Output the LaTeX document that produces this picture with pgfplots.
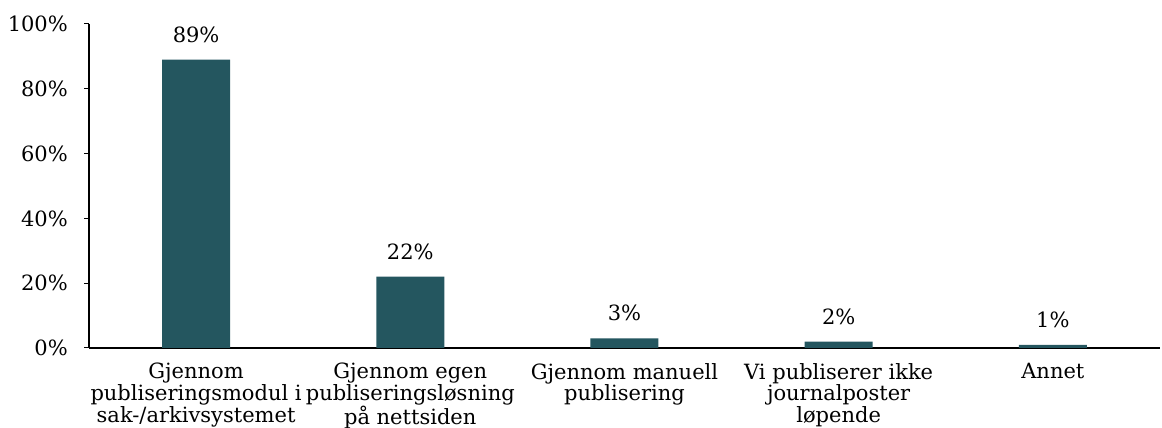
\documentclass[border=0pt]{standalone}
\usepackage{pgfplots}
\pgfplotsset{compat=1.18}
\usepackage{fontspec}
\setmainfont{DejaVu Serif}
\definecolor{barc}{HTML}{24565F}
\begin{document}
\fontsize{21}{18}\selectfont
\begin{tikzpicture}[x=1pt,y=1pt]
\useasboundingbox (0,0) rectangle (1162,428);
\begin{axis}[
  at={(89pt,80pt)}, anchor=south west,
  scale only axis, width=1071pt, height=324pt,
  xmin=-0.5, xmax=4.5, ymin=0, ymax=100,
  axis x line*=bottom, axis y line*=left,
  axis line style={line width=1.2pt},
  ytick={0,20,40,60,80,100},
  yticklabel={\pgfmathprintnumber{\tick}\%},
  /pgf/number format/assume math mode=true,
  ytick style={line width=1pt, black},
  tick align=outside, major tick length=5pt,
  xtick=data, xtick style={draw=none},
  xticklabels={{Gjennom\\publiseringsmodul i\\sak-/arkivsystemet},{Gjennom egen\\publiseringsløsning\\på nettsiden},{Gjennom manuell\\publisering},{Vi publiserer ikke\\journalposter\\løpende},{Annet}},
  xticklabel style={align=center, font=\fontsize{21}{17}\selectfont, yshift=-3pt},
  yticklabel style={font=\fontsize{21}{18}\selectfont, xshift=-9pt},
  ybar, bar width=68pt,
  nodes near coords={\pgfmathprintnumber{\pgfplotspointmeta}\%},
  nodes near coords style={font=\fontsize{21}{18}\selectfont, yshift=10pt},
  clip=false,
]
\addplot[fill=barc, draw=none] coordinates {(0,89) (1,22) (2,3) (3,2) (4,1)};
\end{axis}
\end{tikzpicture}
\end{document}
